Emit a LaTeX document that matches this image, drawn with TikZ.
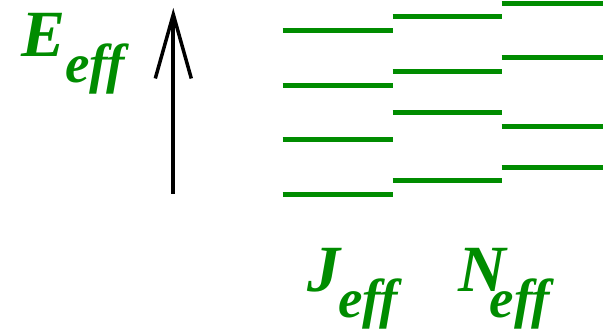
\documentclass[tikz,border=0pt]{standalone}
\usepackage{fontspec}
\setmainfont{Liberation Serif}
\usetikzlibrary{arrows.meta}
\definecolor{levelgreen}{RGB}{0,140,0}
% big symbol with lowered "eff"
\newcommand{\efflabel}[2]{#1\kern#2\raisebox{-26pt}{\fontsize{55}{55}\selectfont eff}}
\tikzset{
  level/.style={draw=levelgreen,line width=5pt},
  sym/.style={text=levelgreen,font=\fontsize{66}{66}\selectfont\bfseries\itshape,
    inner sep=0pt,anchor=base west},
  energy/.style={-{Straight Barb[length=64pt,width=36pt,line width=3.5pt]},line width=4pt,black}
}
\begin{document}
\begin{tikzpicture}[x=1pt,y=-1pt]
  \useasboundingbox (0,0) rectangle (603,331);
  % energy axis
  \coordinate (axisbot) at (173.3,194);
  \coordinate (axistop) at (173.3,8);
  \draw[energy] (axisbot) -- (axistop);
  % level columns
  \foreach \y in {30.7,85.3,140,195}
    \draw[level] (282.7,\y) -- (392.7,\y);
  \foreach \y in {17,71.7,112.7,181}
    \draw[level] (392.7,\y) -- (501.7,\y);
  \foreach \y in {3.3,58,126.7,167.3}
    \draw[level] (501.7,\y) -- (603,\y);
  % labels
  \node[sym] (eeff) at (21,57) {\efflabel{E}{0pt}};
  \node[sym] (jeff) at (307,292) {\efflabel{J}{-2pt}};
  \node[sym] (neff) at (458,292) {\efflabel{N}{-16pt}};
\end{tikzpicture}
\end{document}
